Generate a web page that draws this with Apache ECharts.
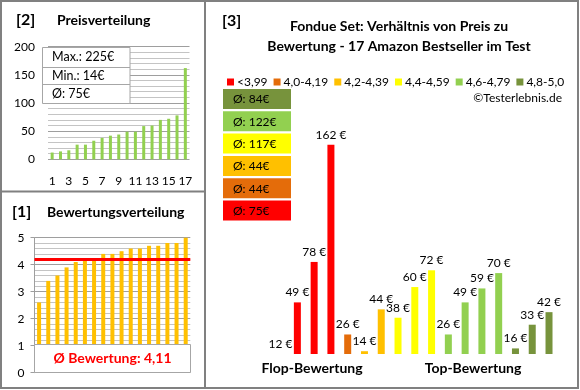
<!DOCTYPE html>
<html><head><meta charset="utf-8">
<script src="https://cdn.jsdelivr.net/npm/echarts@6/dist/echarts.min.js"></script>
<style>html,body{margin:0;padding:0;background:#fff}#c{width:580px;height:390px}</style>
</head><body><div id="c"></div>
<script>
// ---- data ----
const kategorien = ['1','2','3','4','5','6','7','8','9','10','11','12','13','14','15','16','17'];
const preise = [12,14,16,26,26,33,38,42,44,49,49,59,60,70,72,78,162];
const bewertungen = [2.6,3.4,3.6,3.9,4.1,4.2,4.2,4.4,4.4,4.5,4.6,4.6,4.7,4.7,4.8,4.8,5.0];
const bewertungLinie = 4.22;
const bewertungText = 'Ø Bewertung: 4,11';
const preisStatistik = ['Max.: 225€','Min.: 14€','Ø: 75€'];
const gruppen = ['<3,99','4,0-4,19','4,2-4,39','4,4-4,59','4,6-4,79','4,8-5,0'];
const gruppenFarben = ['#FF0000','#E46C0A','#FFC000','#FFFF00','#92D050','#77933C'];
const gruppenSchnitt = ['Ø: 75€','Ø: 44€','Ø: 44€','Ø: 117€','Ø: 122€','Ø: 84€'];
const vergleichPreise = [12,49,78,162,26,14,44,38,60,72,26,49,59,70,16,33,42];
const vergleichGruppe = [0,0,0,0,1,2,2,3,3,3,4,4,4,4,5,5,5];

const FONT = 'Lato';
const chart = echarts.init(document.getElementById('c'));

const vergleichSerien = gruppen.map((g, gi) => ({
  name: g, type: 'bar', xAxisIndex: 2, yAxisIndex: 2,
  barWidth: 7, barGap: '-100%',
  itemStyle: { color: gruppenFarben[gi] },
  label: { show: true, position: 'top', distance: 4, formatter: '{c} €', fontSize: 12, color: '#000', fontFamily: FONT },
  data: vergleichPreise.map((v, i) => vergleichGruppe[i] === gi ? v : '-')
}));

const graphics = [];
// panel borders
graphics.push({ type: 'rect', shape: { x: 1, y: 1, width: 577, height: 387 }, style: { fill: 'none', stroke: '#808080', lineWidth: 2 }, z: 200 });
graphics.push({ type: 'line', shape: { x1: 205, y1: 0, x2: 205, y2: 389 }, style: { stroke: '#808080', lineWidth: 2 }, z: 200 });
graphics.push({ type: 'line', shape: { x1: 0, y1: 191.5, x2: 205, y2: 191.5 }, style: { stroke: '#808080', lineWidth: 2 }, z: 200 });
// titles
const titleStyle = (t, x, y, size, extra) => Object.assign({ type: 'text', x: x, y: y, z: 150,
  style: { text: t, fontFamily: FONT, fontWeight: 'bold', fontSize: size, fill: '#000', textVerticalAlign: 'middle' } }, extra || {});
graphics.push(titleStyle('[2]', 16, 20, 16));
graphics.push(titleStyle('Preisverteilung', 57, 20, 14));
graphics.push(titleStyle('[1]', 12, 212, 16));
graphics.push(titleStyle('Bewertungsverteilung', 47, 212, 14));
graphics.push(titleStyle('[3]', 222, 21, 16));
graphics.push({ type: 'text', x: 399, y: 26, z: 150, style: { text: 'Fondue Set: Verhältnis von Preis zu', fontFamily: FONT, fontWeight: 'bold', fontSize: 14, fill: '#000', textAlign: 'center', textVerticalAlign: 'middle' } });
graphics.push({ type: 'text', x: 399, y: 46, z: 150, style: { text: 'Bewertung - 17 Amazon Bestseller im Test', fontFamily: FONT, fontWeight: 'bold', fontSize: 14, fill: '#000', textAlign: 'center', textVerticalAlign: 'middle' } });
graphics.push({ type: 'text', x: 562, y: 98, z: 150, style: { text: '©Testerlebnis.de', fontFamily: FONT, fontSize: 12, fill: '#000', textAlign: 'right', textVerticalAlign: 'middle' } });
graphics.push({ type: 'text', x: 312, y: 368, z: 150, style: { text: 'Flop-Bewertung', fontFamily: FONT, fontWeight: 'bold', fontSize: 14, fill: '#000', textAlign: 'center', textVerticalAlign: 'middle' } });
graphics.push({ type: 'text', x: 473, y: 368, z: 150, style: { text: 'Top-Bewertung', fontFamily: FONT, fontWeight: 'bold', fontSize: 14, fill: '#000', textAlign: 'center', textVerticalAlign: 'middle' } });
// price stats box
const rowY = [47.7, 66.7, 84.3, 103.3];
graphics.push({ type: 'rect', shape: { x: 42.5, y: 47.5, width: 87.5, height: 56 }, style: { fill: '#fff', stroke: '#A6A6A6', lineWidth: 1 }, z: 120 });
preisStatistik.forEach((t, i) => {
  if (i > 0) graphics.push({ type: 'line', shape: { x1: 42.5, y1: Math.round(rowY[i]) + 0.5, x2: 130, y2: Math.round(rowY[i]) + 0.5 }, style: { stroke: '#A6A6A6', lineWidth: 1 }, z: 121 });
  graphics.push({ type: 'text', x: 52, y: (rowY[i] + rowY[i + 1]) / 2, z: 122, style: { text: t, fontFamily: FONT, fontSize: 12.5, fill: '#000', textVerticalAlign: 'middle' } });
});
// rating box
graphics.push({ type: 'rect', shape: { x: 34.5, y: 344.5, width: 156, height: 28 }, style: { fill: '#fff', stroke: '#A6A6A6', lineWidth: 1 }, z: 120 });
graphics.push({ type: 'text', x: 112.5, y: 358.5, z: 122, style: { text: bewertungText, fontFamily: FONT, fontWeight: 'bold', fontSize: 14, fill: '#FF0000', textAlign: 'center', textVerticalAlign: 'middle' } });
// group average boxes (top: best group)
for (let k = 0; k < 6; k++) {
  const gi = 5 - k;
  const y = 89 + k * 22.3;
  graphics.push({ type: 'rect', shape: { x: 223, y: y, width: 68, height: 20 }, style: { fill: gruppenFarben[gi] }, z: 120 });
  graphics.push({ type: 'text', x: 233, y: y + 10.5, z: 122, style: { text: gruppenSchnitt[gi], fontFamily: FONT, fontSize: 12, fill: '#000', textVerticalAlign: 'middle' } });
}

chart.setOption({
  animation: false,
  textStyle: { fontFamily: FONT },
  legend: {
    data: gruppen, left: 222, top: 71, itemWidth: 7, itemHeight: 7, itemGap: 6, icon: 'rect',
    textStyle: { fontSize: 12, color: '#000', fontFamily: FONT, padding: [0, 0, 0, -2] }
  },
  grid: [
    { left: 48, top: 46.7, width: 141.5, height: 112.6 },
    { left: 34.5, top: 237.7, width: 155.8, height: 135 },
    { left: 272.2, top: 133.6, width: 285.2, height: 220.4 }
  ],
  xAxis: [
    { type: 'category', gridIndex: 0, data: kategorien, axisLine: { show: false }, axisTick: { show: false },
      axisLabel: { interval: 1, margin: 16, fontSize: 12, color: '#000' } },
    { type: 'category', gridIndex: 1, data: kategorien, axisLine: { show: false }, axisTick: { show: false }, axisLabel: { show: false } },
    { type: 'category', gridIndex: 2, data: kategorien, show: false }
  ],
  yAxis: [
    { type: 'value', gridIndex: 0, min: 0, max: 200, interval: 50,
      axisLine: { show: false }, axisTick: { show: false },
      axisLabel: { margin: 13, fontSize: 12, color: '#000' },
      splitLine: { lineStyle: { color: '#9E9E9E', width: 1 } },
      minorTick: { show: false, splitNumber: 5 }, minorSplitLine: { show: true, lineStyle: { color: '#C4C4C4', width: 1 } } },
    { type: 'value', gridIndex: 1, min: 0, max: 5, interval: 1,
      axisLine: { show: true, lineStyle: { color: '#9E9E9E' } }, axisTick: { show: true, length: 4, lineStyle: { color: '#9E9E9E' } },
      axisLabel: { margin: 10, fontSize: 12, color: '#000' },
      splitLine: { lineStyle: { color: '#9E9E9E', width: 1 } },
      minorTick: { show: false, splitNumber: 5 }, minorSplitLine: { show: true, lineStyle: { color: '#C4C4C4', width: 1 } } },
    { type: 'value', gridIndex: 2, min: 12, max: 170, show: false, splitLine: { show: false } }
  ],
  series: [
    { type: 'bar', xAxisIndex: 0, yAxisIndex: 0, data: preise, barWidth: 3, itemStyle: { color: '#92D050' } },
    { type: 'bar', xAxisIndex: 1, yAxisIndex: 1, data: bewertungen, barWidth: 4, itemStyle: { color: '#FFC000' },
      markLine: { silent: true, symbol: 'none', label: { show: false }, lineStyle: { color: '#FF0000', width: 3, type: 'solid' },
        data: [{ yAxis: bewertungLinie }] } }
  ].concat(vergleichSerien),
  graphic: graphics
});
</script></body></html>
